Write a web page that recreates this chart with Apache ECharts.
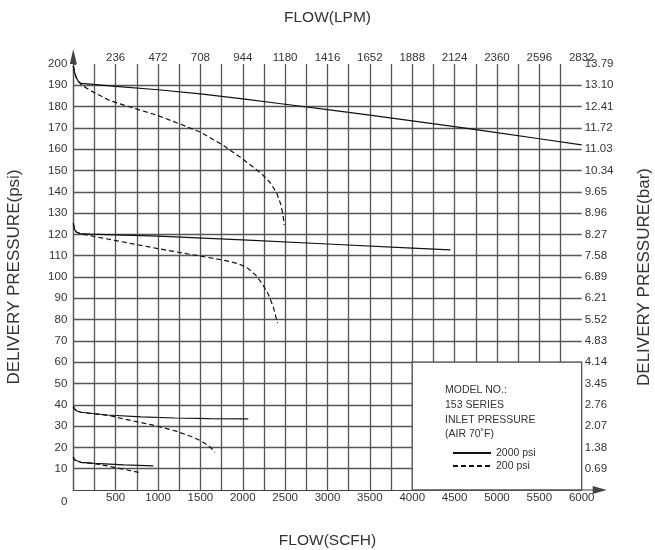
<!DOCTYPE html>
<html><head><meta charset="utf-8">
<script src="https://cdn.jsdelivr.net/npm/echarts@6/dist/echarts.min.js"></script>
<style>html,body{margin:0;padding:0;background:#fff}#c{width:655px;height:550px}</style>
</head><body><div id="c"></div>
<script>
// Tick labels
const scfhLabels = [500,1000,1500,2000,2500,3000,3500,4000,4500,5000,5500,6000];
const lpmLabels = [236,472,708,944,1180,1416,1652,1888,2124,2360,2596,2832];
const barLabels = ['0.69','1.38','2.07','2.76','3.45','4.14','4.83','5.52','6.21','6.89','7.58','8.27','8.96','9.65','10.34','11.03','11.72','12.41','13.10','13.79'];

// Curves [flow SCFH, delivery psi]
const hi2000 = [[0,199],[15,196],[35,193.6],[60,191.8],[90,190.9],[236,190.4],[500,189.5],[1000,187.9],[1500,186],[2000,183.6],[2500,181.1],[3000,178.6],[3500,176],[4000,173.3],[4500,170.6],[5000,167.8],[5500,164.9],[6000,162]];
const hi200 = [[0,199],[15,196],[35,193.6],[60,191.8],[90,190.5],[118,189.6],[236,186.8],[433,182.8],[750,178.8],[1000,175.8],[1259,171.8],[1500,168],[1770,161.8],[2006,155.2],[2222,148.5],[2320,144.5],[2400,139.5],[2450,134],[2475,129],[2490,124.4]];
const mid2000 = [[0,125.2],[12,122.6],[35,121.1],[80,120.4],[200,120.1],[500,119.8],[1000,119.2],[2000,117.4],[3000,115.5],[4000,113.6],[4450,112.7]];
const mid200 = [[0,125.2],[12,122.6],[35,121.1],[80,120.4],[158,119.7],[500,117.1],[1000,113.3],[1500,109.8],[1800,107.7],[1950,106.2],[2050,104.4],[2150,101],[2230,96.8],[2300,92],[2360,86],[2410,78.3]];
const lo2000 = [[0,39.4],[12,38.2],[35,37.2],[90,36.5],[400,35.2],[800,34.3],[1200,33.8],[1600,33.5],[2065,33.4]];
const lo200 = [[0,39.4],[12,38.2],[35,37.2],[90,36.5],[433,34.9],[600,33.3],[830,31.4],[1000,29.9],[1223,27.5],[1400,25],[1500,23.2],[1580,21.2],[1630,19.6],[1672,17.7]];
const min2000 = [[0,15.5],[12,14.2],[35,13.4],[90,13],[250,12.5],[600,11.8],[945,11.3]];
const min200 = [[0,15.5],[12,14.2],[35,13.4],[90,13],[250,12.4],[400,11.3],[600,9.7],[770,8.3]];

const boxText = ['MODEL NO.:','153 SERIES','INLET PRESSURE','(AIR 70\u02DAF)'];

const FONT = '"Liberation Sans", Arial, sans-serif';
const TXT = '#333';
const GRIDC = '#555';
const arrowPath = 'path://M4,0 L8,14 L4.55,14 L4.55,25 L3.45,25 L3.45,14 L0,14 Z';

function solid(data, withBox) {
  const s = {
    type: 'line', name: '2000 psi', data: data, symbol: 'none',
    smooth: false, z: 5,
    lineStyle: {color: '#111', width: 1.2, type: 'solid'},
    itemStyle: {color: '#111', opacity: 0}
  };
  if (withBox) {
    s.markArea = {
      silent: true,
      itemStyle: {color: '#fff', borderColor: GRIDC, borderWidth: 1.3, opacity: 1},
      data: [[{coord: [4000, 0]}, {coord: [6000, 60]}]]
    };
  }
  return s;
}
function dashed(data) {
  return {
    type: 'line', name: '200 psi', data: data, symbol: 'none',
    smooth: false, z: 4,
    lineStyle: {color: '#111', width: 1.2, type: [5, 3]},
    itemStyle: {color: '#111', opacity: 0}
  };
}

const chart = echarts.init(document.getElementById('c'), null, {renderer: 'canvas'});
chart.setOption({
  animation: false,
  backgroundColor: '#fff',
  textStyle: {fontFamily: FONT},
  grid: {left: 73.3, right: 73.3, top: 64, bottom: 60, containLabel: false, outerBoundsMode: 'none'},
  legend: {
    data: ['2000 psi', '200 psi'], orient: 'vertical', left: 452, top: 447,
    padding: 0, itemWidth: 38, itemHeight: 8, itemGap: 1, selectedMode: false,
    itemStyle: {opacity: 0},
    textStyle: {fontSize: 10.5, color: TXT, fontFamily: FONT, lineHeight: 12}
  },
  graphic: boxText.map((t, i) => ({
    type: 'text', x: 445, y: 390.5 + i * 14.6, z: 100,
    style: {text: t, fontSize: 10.5, fontFamily: FONT, fill: TXT, verticalAlign: 'middle'}
  })),
  xAxis: [{
    type: 'value', position: 'bottom', min: 0, max: 6000, interval: 250,
    name: 'FLOW(SCFH)', nameLocation: 'middle', nameGap: 43,
    nameTextStyle: {fontSize: 15.5, color: TXT, fontFamily: FONT},
    axisLine: {show: true, lineStyle: {color: '#444', width: 1.2}, symbol: ['none', arrowPath], symbolSize: [8, 25], symbolOffset: [0, 12.5]},
    axisTick: {show: false},
    axisLabel: {fontSize: 11.5, color: TXT, margin: 2, fontFamily: FONT,
      formatter: v => scfhLabels.indexOf(v) >= 0 ? String(v) : ''},
    splitLine: {show: true, showMinLine: false, showMaxLine: false, lineStyle: {color: GRIDC, width: 1.3}}
  }, {
    type: 'value', position: 'top', min: 0, max: 2832, interval: 236,
    name: 'FLOW(LPM)', nameLocation: 'middle', nameGap: 38,
    nameTextStyle: {fontSize: 15.5, color: TXT, fontFamily: FONT},
    axisLine: {show: false}, axisTick: {show: false}, splitLine: {show: false},
    axisLabel: {fontSize: 11.5, color: TXT, margin: 0, fontFamily: FONT,
      formatter: v => lpmLabels.indexOf(Math.round(v)) >= 0 ? String(Math.round(v)) : ''}
  }],
  yAxis: [{
    type: 'value', position: 'left', min: 0, max: 200, interval: 10,
    name: 'DELIVERY PRESSURE(psi)', nameLocation: 'middle', nameGap: 50.5,
    nameTextStyle: {fontSize: 17, color: TXT, fontFamily: FONT},
    axisLine: {show: true, lineStyle: {color: '#444', width: 1.2}, symbol: ['none', 'triangle'], symbolSize: [7, 15], symbolOffset: [0, 7.5]},
    axisTick: {show: false},
    axisLabel: {fontSize: 11.5, color: TXT, margin: 6, fontFamily: FONT,
      formatter: v => v === 0 ? '{z|0}' : String(v),
      rich: {z: {fontSize: 11.5, color: TXT, fontFamily: FONT, padding: [24, 0, 0, 0]}}},
    splitLine: {show: true, showMinLine: false, showMaxLine: false, lineStyle: {color: GRIDC, width: 1.3}}
  }, {
    type: 'value', position: 'right', min: 0, max: 200, interval: 10,
    name: 'DELIVERY PRESSURE(bar)', nameLocation: 'middle', nameGap: 54.5,
    nameTextStyle: {fontSize: 17, color: TXT, fontFamily: FONT},
    axisLine: {show: true, lineStyle: {color: GRIDC, width: 1.3}},
    axisTick: {show: true, length: 3, inside: false, lineStyle: {color: GRIDC}},
    axisLabel: {fontSize: 11.5, color: TXT, margin: 3, fontFamily: FONT,
      formatter: v => v === 0 ? '' : (barLabels[Math.round(v / 10) - 1] || '')},
    splitLine: {show: false}
  }],
  series: [
    dashed(hi200), solid(hi2000, true),
    dashed(mid200), solid(mid2000),
    dashed(lo200), solid(lo2000),
    dashed(min200), solid(min2000)
  ]
});
</script></body></html>
